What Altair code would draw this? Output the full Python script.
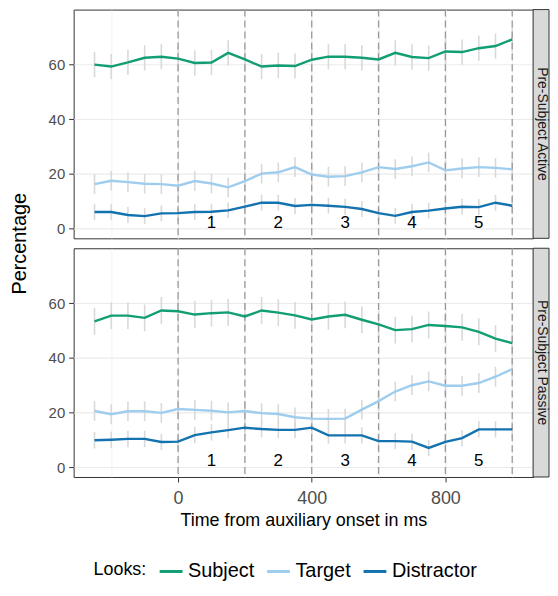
import altair as alt
import pandas as pd

times = [-250, -200, -150, -100, -50, 0, 50, 100, 150, 200, 250, 300, 350,
         400, 450, 500, 550, 600, 650, 700, 750, 800, 850, 900, 950, 1000]

series_names = ["Subject", "Target", "Distractor"]
series_colors = ["#119E73", "#9FCDEE", "#1372B0"]
panel_names = ["Pre-Subject Active", "Pre-Subject Passive"]

active_subject = [59.9, 59.2, 60.7, 62.4, 62.8, 62.1, 60.5, 60.7, 64.2, 61.8, 59.2, 59.6, 59.4,
                  61.7, 62.8, 62.8, 62.4, 61.8, 64.2, 62.7, 62.3, 64.7, 64.5, 65.9, 66.7, 69.1]
active_target = [16.3, 17.5, 17.0, 16.4, 16.3, 15.7, 17.4, 16.5, 15.1, 17.4, 20.1, 20.6, 22.5,
                 19.8, 19.0, 19.2, 20.6, 22.5, 21.8, 22.8, 24.2, 21.3, 22.0, 22.5, 22.2, 21.7]
active_distractor = [6.1, 6.1, 5.0, 4.6, 5.6, 5.7, 6.1, 6.2, 6.7, 8.1, 9.5, 9.5, 8.3,
                     8.7, 8.4, 8.0, 7.2, 5.7, 4.7, 6.1, 6.6, 7.4, 8.0, 7.9, 9.5, 8.4]

passive_subject = [53.3, 55.4, 55.4, 54.6, 57.3, 57.0, 55.8, 56.3, 56.6, 55.1, 57.3, 56.5, 55.5,
                   54.0, 55.1, 55.7, 53.9, 52.2, 50.1, 50.5, 52.0, 51.6, 51.1, 49.5, 47.0, 45.4]
passive_target = [20.6, 19.4, 20.5, 20.5, 19.9, 21.3, 21.0, 20.7, 20.1, 20.6, 19.8, 19.5, 18.3,
                  17.8, 17.7, 17.8, 21.1, 24.2, 27.7, 30.0, 31.4, 29.8, 29.8, 30.8, 33.1, 35.9]
passive_distractor = [9.9, 10.1, 10.4, 10.4, 9.3, 9.4, 11.8, 12.8, 13.6, 14.5, 14.0, 13.7, 13.7,
                      14.5, 11.7, 11.7, 11.7, 9.6, 9.6, 9.4, 7.1, 9.3, 10.7, 13.9, 13.9, 13.9]

# error bar half-widths (Subject, Target, Distractor)
active_err = [4.6, 3.6, 2.9]
passive_err = [4.9, 3.6, 3.0]

region_bounds = [0, 200, 400, 600, 800, 1000]
region_centers = [100, 300, 500, 700, 900]
region_labels = ["1", "2", "3", "4", "5"]
region_label_y = [2.2, 2.2, 2.2, 2.2, 2.2]

x_grid_values = [-200, 0, 200, 400, 600, 800, 1000]
y_grid_values = [0, 10, 20, 30, 40, 50, 60, 70]

W = 462
H = 230
STRIP = 16
FONT = "Liberation Sans"


def make_df(values_list, errs):
    rows = []
    for name, vals, e in zip(series_names, values_list, errs):
        for t, v in zip(times, vals):
            rows.append({"time": t, "value": v, "lo": v - e, "hi": v + e, "Looks": name})
    return pd.DataFrame(rows)


def panel(name, values_list, errs, bottom, show_ytitle):
    df = make_df(values_list, errs)
    xscale = alt.Scale(domain=[-312.5, 1062.5], nice=False, zero=False)
    yscale = alt.Scale(domain=[-3.5, 80], nice=False, zero=False)

    minor_x = "datum.value % 400 != 0"
    minor_y = "datum.value % 20 != 0"

    if bottom:
        xaxis = alt.Axis(
            values=x_grid_values,
            labelExpr="datum.value % 400 == 0 ? datum.label : ''",
            tickColor={"condition": {"test": minor_x, "value": "transparent"}, "value": "#333333"},
            gridWidth={"condition": {"test": minor_x, "value": 0.6}, "value": 1.1},
            gridColor="#EBEBEB",
            tickSize=5, labelFontSize=18, labelColor="#4D4D4D", labelPadding=8,
            labelFlush=False,
            title="Time from auxiliary onset in ms", titleFontSize=18, titleColor="#000000",
            titleFontWeight="normal", titlePadding=4, domain=False,
        )
    else:
        xaxis = alt.Axis(
            values=x_grid_values, labels=False, ticks=False, domain=False, title=None,
            gridWidth={"condition": {"test": minor_x, "value": 0.6}, "value": 1.1},
            gridColor="#EBEBEB",
        )

    yaxis_kwargs = dict(
        values=y_grid_values,
        labelExpr="datum.value % 20 == 0 ? datum.label : ''",
        tickColor={"condition": {"test": minor_y, "value": "transparent"}, "value": "#333333"},
        gridWidth={"condition": {"test": minor_y, "value": 0.6}, "value": 1.1},
        gridColor="#EBEBEB",
        tickSize=5, labelFontSize=15, labelColor="#4D4D4D", labelPadding=4, domain=False,
        labelFlush=False,
    )
    if show_ytitle:
        yaxis = alt.Axis(title="Percentage", titleFontSize=20, titleColor="#000000",
                         titleFontWeight="normal", titlePadding=19, titleY=H + 5, **yaxis_kwargs)
    else:
        yaxis = alt.Axis(title="Percentage", titleFontSize=20, titleColor="transparent",
                         titleFontWeight="normal", titlePadding=19, **yaxis_kwargs)

    base = alt.Chart(df)

    errbars = base.mark_rule(color="#D9D9D9", strokeWidth=1.6).encode(
        x=alt.X("time:Q", scale=xscale, axis=xaxis),
        y=alt.Y("lo:Q", scale=yscale, axis=yaxis),
        y2="hi:Q",
    )

    bounds = alt.Chart(pd.DataFrame({"b": region_bounds})).mark_rule(
        color="#9A9A9A", strokeDash=[7, 4], strokeWidth=1.3
    ).encode(x=alt.X("b:Q", scale=xscale))

    lines = base.mark_line(strokeWidth=2.4).encode(
        x=alt.X("time:Q", scale=xscale),
        y=alt.Y("value:Q", scale=yscale),
        color=alt.Color(
            "Looks:N",
            scale=alt.Scale(domain=series_names, range=series_colors),
            legend=alt.Legend(
                title="Looks:", orient="none", direction="horizontal",
                legendX=20, legendY=552, titleOrient="left",
                symbolType="stroke", symbolStrokeWidth=3, symbolSize=529,
                labelFontSize=20, titleFontSize=18, titleFontWeight="normal",
                titleColor="#000000", labelColor="#000000", columnPadding=6,
                labelOffset=4, titlePadding=11,
            ),
            sort=series_names,
        ),
        detail="Looks:N",
    )

    nums = alt.Chart(pd.DataFrame({"t": region_centers, "lab": region_labels, "y": region_label_y})).mark_text(
        fontSize=17, color="#000000", baseline="middle", align="center"
    ).encode(x=alt.X("t:Q", scale=xscale), y=alt.Y("y:Q", scale=yscale), text="lab:N")

    sdf = pd.DataFrame({"label": [name]})
    strip = alt.Chart(sdf).mark_rect(fill="#D9D9D9", stroke="#333333", strokeWidth=1).encode(
        x=alt.value(W), x2=alt.value(W + STRIP), y=alt.value(0), y2=alt.value(H)
    )
    strip_text = alt.Chart(sdf).mark_text(angle=90, fontSize=14, color="#1A1A1A",
                                          baseline="middle", align="center").encode(
        x=alt.value(W + STRIP / 2 + 1), y=alt.value(H / 2), text="label:N"
    )

    return alt.layer(errbars, bounds, lines, nums, strip, strip_text).properties(width=W, height=H)


top = panel(panel_names[0], [active_subject, active_target, active_distractor], active_err, False, True)
bot = panel(panel_names[1], [passive_subject, passive_target, passive_distractor], passive_err, True, False)

chart = alt.vconcat(top, bot, spacing=10, bounds="flush").properties(
    padding={"left": 0, "top": -2, "right": 0, "bottom": 0}
).configure(font=FONT).configure_view(stroke="#333333", strokeWidth=1)

chart.save("out.html", embed_options={"renderer": "svg", "actions": False})
